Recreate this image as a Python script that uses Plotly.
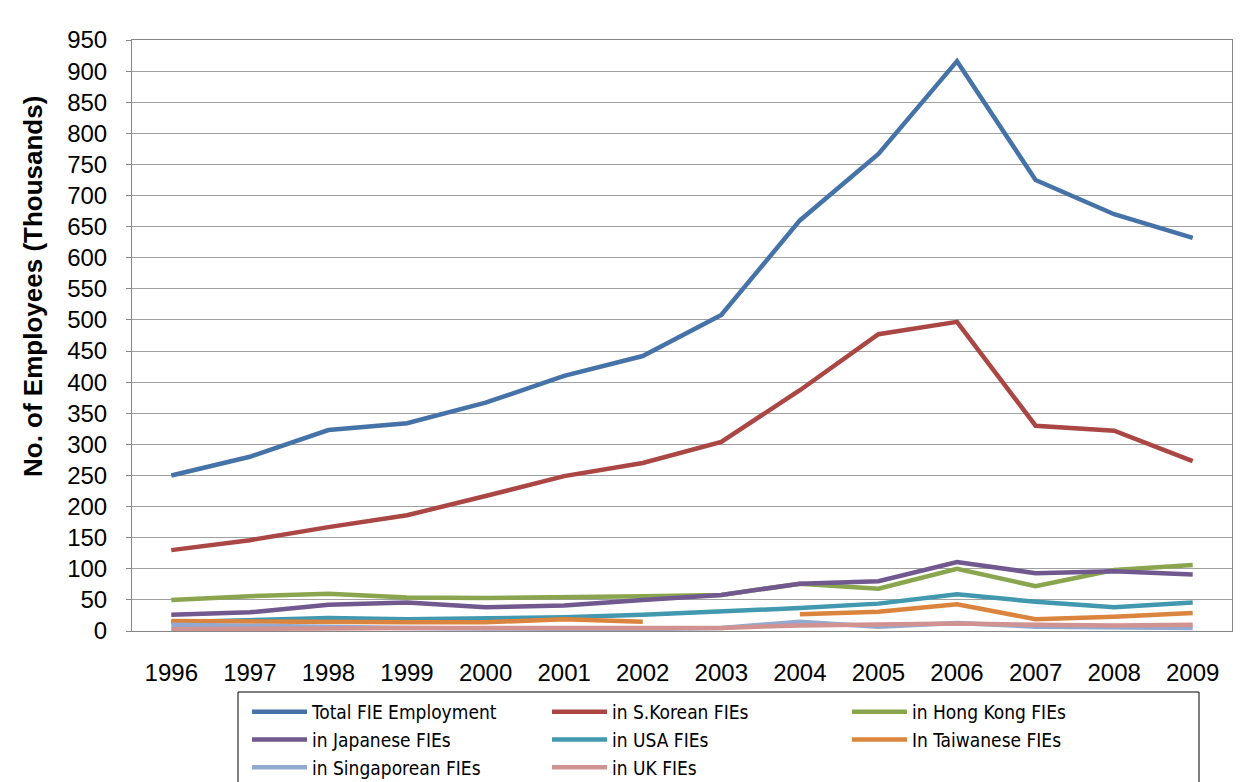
import plotly.graph_objects as go

# Employment in foreign-invested enterprises (thousands)
years = ["1996", "1997", "1998", "1999", "2000", "2001", "2002",
         "2003", "2004", "2005", "2006", "2007", "2008", "2009"]

total_fie = [250, 280, 323, 334, 367, 410, 442, 508, 660, 767, 916, 725, 670, 632]
s_korean = [130, 146, 167, 186, 217, 249, 270, 304, 387, 477, 497, 330, 322, 273]
hong_kong = [50, 56, 60, 54, 53, 54, 56, 58, 76, 68, 100, 72, 98, 106]
japanese = [26, 30, 42, 46, 38, 41, 50, 58, 76, 80, 111, 93, 96, 91]
usa = [14, 17, 21, 19, 20, 22, 26, 31, 37, 44, 59, 47, 38, 46]
taiwanese = [16, 15, 15, 14, 14, 19, 15, None, 27, 31, 43, 19, 23, 29]
singaporean = [10, 8, 6, 5, 4, 4, 3, 5, 15, 7, 13, 7, 6, 5]
uk = [3, 3, 4, 5, 5, 5, 5, 5, 9, 10, 12, 10, 9, 10]

y_ticks = list(range(0, 951, 50))

series = [
    ("Total FIE Employment", total_fie, "#4572A7"),
    ("in S.Korean FIEs", s_korean, "#AA4643"),
    ("in Hong Kong FIEs", hong_kong, "#89A54E"),
    ("in Japanese FIEs", japanese, "#71588F"),
    ("in USA FIEs", usa, "#4198AF"),
    ("In Taiwanese FIEs", taiwanese, "#DB843D"),
    ("in Singaporean FIEs", singaporean, "#93A9CF"),
    ("in UK FIEs", uk, "#D19392"),
]

fig = go.Figure()
for name, vals, color in series:
    fig.add_trace(go.Scatter(
        x=years, y=vals, name=name, mode="lines",
        line=dict(color=color, width=4.5),
    ))

# the page body adds an 8px margin, so work in page pixels and shift back
OFF = 8
W, H = 1254 - OFF, 782 - OFF
L, T = 132 - OFF, 40 - OFF
R = W - (1232 - OFF)
B = H - (631 - OFF)
pw, ph = W - L - R, H - T - B


def px_x(p):
    return (p - OFF - L) / pw


def px_y(p):
    return (H - B - (p - OFF)) / ph


fig.update_layout(
    width=W, height=H,
    margin=dict(l=L, r=R, t=T, b=B, autoexpand=False),
    paper_bgcolor="white",
    plot_bgcolor="white",
    font=dict(family="Liberation Sans, Arial, sans-serif", color="black"),
    showlegend=True,
    legend=dict(
        orientation="h",
        xref="container", yref="container",
        x=(247 - OFF) / W, y=1 - (693 - OFF) / H,
        xanchor="left", yanchor="top",
        borderwidth=0, bgcolor="rgba(0,0,0,0)",
        font=dict(family="DejaVu Sans Condensed, Liberation Sans, sans-serif", size=19),
        entrywidth=230,
        itemwidth=55,
        tracegroupgap=0,
    ),
    xaxis=dict(
        type="category",
        range=[-0.5, 13.5],
        showgrid=False,
        showline=True, linecolor="#868686", linewidth=1, mirror=True,
        ticks="", tickfont=dict(size=24),
        ticklabelstandoff=20,
    ),
    yaxis=dict(
        range=[0, 950],
        tickvals=y_ticks,
        showgrid=True, gridcolor="#A0A0A0", gridwidth=1,
        showline=True, linecolor="#868686", linewidth=1, mirror=True,
        ticks="outside", ticklen=5, tickcolor="#868686",
        tickfont=dict(size=24),
        ticklabelstandoff=14,
        zeroline=False,
    ),
    shapes=[
        dict(
            type="rect", xref="paper", yref="paper",
            x0=px_x(7), x1=px_x(1247), y0=px_y(800), y1=px_y(7),
            line=dict(color="black", width=1), fillcolor="rgba(0,0,0,0)",
        ),
        dict(
            type="rect", xref="paper", yref="paper",
            x0=px_x(238), x1=px_x(1199), y0=px_y(800), y1=px_y(692),
            line=dict(color="black", width=1), fillcolor="rgba(0,0,0,0)",
        ),
    ],
    annotations=[dict(
        text="<b>No. of Employees (Thousands)</b>",
        xref="paper", yref="paper",
        x=px_x(33), y=px_y(287),
        xanchor="center", yanchor="middle",
        textangle=-90, showarrow=False,
        font=dict(size=26),
    )],
)

fig.write_html("out.html")
